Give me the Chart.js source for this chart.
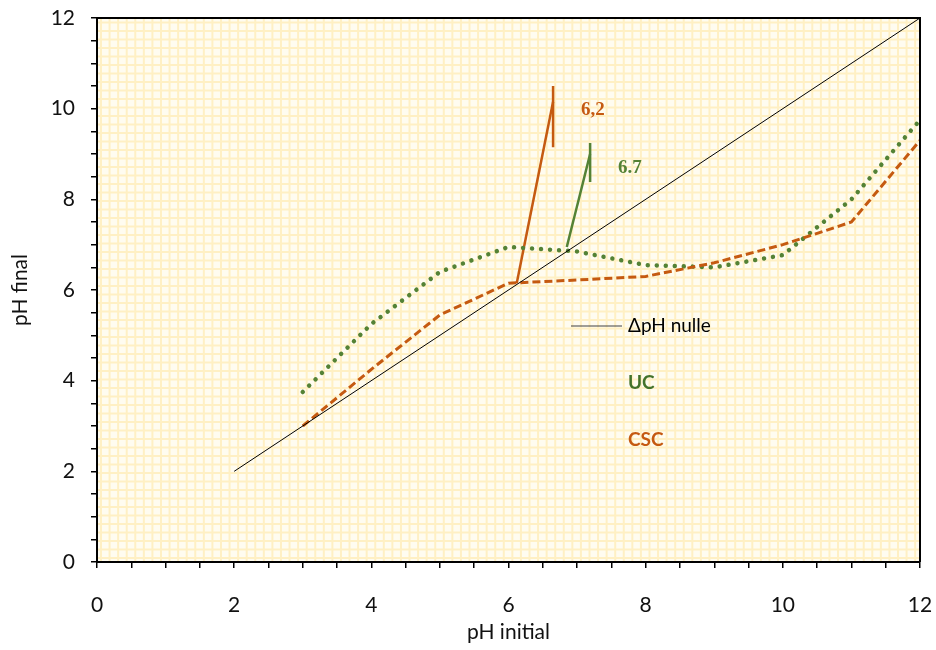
<!DOCTYPE html>
<html>
<head>
<meta charset="utf-8">
<script src="https://cdn.jsdelivr.net/npm/chart.js@4.4.1/dist/chart.umd.min.js"></script>
<style>
  html, body { margin: 0; padding: 0; background: #fff; }
  #wrap { width: 936px; height: 650px; }
</style>
</head>
<body>
<div id="wrap"><canvas id="chart" width="936" height="650"></canvas></div>
<script>
// pH final vs pH initial (salt addition method)
const phInitial = [3, 4, 5, 6, 7, 8, 9, 10, 11, 12];
const ucFinal = [3.75, 5.25, 6.4, 6.95, 6.85, 6.55, 6.5, 6.77, 8.0, 9.75];
const cscFinal = [3.0, 4.25, 5.45, 6.15, 6.22, 6.3, 6.6, 7.0, 7.5, 9.3];

// ΔpH = 0 reference line
const nullX = [2, 12];
const nullY = [2, 12];

// construction lines pointing at the pH of zero charge
const cscPzcX = [6.12, 6.65];
const cscPzcY = [6.15, 10.15];
const cscMarkX = [6.65, 6.65];
const cscMarkY = [10.5, 9.15];
const ucPzcX = [6.85, 7.19];
const ucPzcY = [6.95, 9.0];
const ucMarkX = [7.19, 7.19];
const ucMarkY = [9.24, 8.38];

const pzcLabels = ['6,2', '6.7'];
const legendLabels = ['ΔpH nulle', 'UC', 'CSC'];

const ORANGE = '#C55A11';
const GREEN = '#548235';
const FONT = 'Lato, "Open Sans", sans-serif';

const toPoints = (xs, ys) => xs.map((x, i) => ({ x, y: ys[i] }));

// Excel-like "small grid" pattern fill of the plot area
const paperGrid = {
  id: 'paperGrid',
  beforeDraw(chart) {
    const { ctx, chartArea: a } = chart;
    ctx.save();
    ctx.fillStyle = '#FFFCF0';
    ctx.fillRect(a.left, a.top, a.right - a.left, a.bottom - a.top);
    ctx.strokeStyle = '#FFF0C4';
    ctx.lineWidth = 2;
    ctx.beginPath();
    for (let x = a.left + 4; x < a.right; x += 8.57) {
      ctx.moveTo(x, a.top);
      ctx.lineTo(x, a.bottom);
    }
    for (let y = a.bottom - 4; y > a.top; y -= 8.5) {
      ctx.moveTo(a.left, y);
      ctx.lineTo(a.right, y);
    }
    ctx.stroke();
    ctx.restore();
  },
  afterDraw(chart) {
    const { ctx, chartArea: a } = chart;
    ctx.save();
    ctx.strokeStyle = '#000';
    ctx.lineWidth = 2;
    ctx.beginPath();
    ctx.moveTo(a.left, a.top);
    ctx.lineTo(a.right, a.top);
    ctx.lineTo(a.right, a.bottom);
    ctx.stroke();
    ctx.restore();
  },
};

// text boxes: legend and pzc values
const notes = {
  id: 'notes',
  afterDraw(chart) {
    const { ctx } = chart;
    ctx.save();
    ctx.textBaseline = 'middle';
    ctx.textAlign = 'left';

    ctx.strokeStyle = '#404040';
    ctx.lineWidth = 1;
    ctx.beginPath();
    ctx.moveTo(571, 326);
    ctx.lineTo(622, 326);
    ctx.stroke();

    ctx.fillStyle = '#000';
    ctx.font = '19px ' + FONT;
    ctx.fillText(legendLabels[0], 628, 326);
    ctx.font = 'bold 19px ' + FONT;
    ctx.fillStyle = '#44722A';
    ctx.fillText(legendLabels[1], 628, 383);
    ctx.fillStyle = ORANGE;
    ctx.fillText(legendLabels[2], 628, 440);

    ctx.font = 'bold 19px "Liberation Serif", serif';
    ctx.fillStyle = ORANGE;
    ctx.fillText(pzcLabels[0], 581, 110);
    ctx.fillStyle = GREEN;
    ctx.fillText(pzcLabels[1], 618, 168);
    ctx.restore();
  },
};

const tickLabel = (v) => (v % 2 === 0 ? String(v) : '');

// keep the plot area where the reference has it
const noOverflow = (scale) => {
  scale.paddingTop = 0;
  scale.paddingBottom = 0;
  scale.paddingLeft = 0;
  scale.paddingRight = 0;
};

new Chart(document.getElementById('chart'), {
  type: 'line',
  data: {
    datasets: [
      {
        data: toPoints(nullX, nullY),
        borderColor: '#000',
        borderWidth: 1,
        pointRadius: 0,
      },
      {
        data: toPoints(phInitial, cscFinal),
        borderColor: ORANGE,
        borderWidth: 3,
        borderDash: [8, 4],
        pointRadius: 0,
      },
      {
        data: toPoints(phInitial, ucFinal),
        borderColor: GREEN,
        borderWidth: 4.5,
        borderDash: [0.01, 9],
        borderCapStyle: 'round',
        pointRadius: 0,
      },
      {
        data: toPoints(cscPzcX, cscPzcY),
        borderColor: ORANGE,
        borderWidth: 2.5,
        pointRadius: 0,
      },
      {
        data: toPoints(cscMarkX, cscMarkY),
        borderColor: ORANGE,
        borderWidth: 2.5,
        pointRadius: 0,
      },
      {
        data: toPoints(ucPzcX, ucPzcY),
        borderColor: GREEN,
        borderWidth: 2.5,
        pointRadius: 0,
      },
      {
        data: toPoints(ucMarkX, ucMarkY),
        borderColor: GREEN,
        borderWidth: 2.5,
        pointRadius: 0,
      },
    ],
  },
  options: {
    responsive: false,
    animation: false,
    layout: { padding: { top: 18, right: 16, left: 0, bottom: 0 } },
    plugins: {
      legend: { display: false },
      tooltip: { enabled: false },
    },
    scales: {
      x: {
        type: 'linear',
        min: 0,
        max: 12,
        afterFit(scale) { scale.height = 88; noOverflow(scale); },
        ticks: {
          stepSize: 0.5,
          autoSkip: false,
          maxRotation: 0,
          padding: 25,
          color: '#111',
          font: { family: FONT, size: 21 },
          callback: tickLabel,
        },
        grid: { drawOnChartArea: false, drawTicks: true, tickLength: 6, color: '#000', lineWidth: 1.5 },
        border: { display: true, color: '#000', width: 2 },
        title: {
          display: true,
          text: 'pH initial',
          color: '#111',
          font: { family: FONT, size: 21 },
          padding: { top: 4, bottom: 5 },
        },
      },
      y: {
        type: 'linear',
        min: 0,
        max: 12,
        afterFit(scale) { scale.width = 97; noOverflow(scale); },
        ticks: {
          stepSize: 0.5,
          autoSkip: false,
          padding: 16,
          color: '#111',
          font: { family: FONT, size: 21 },
          callback: tickLabel,
        },
        grid: { drawOnChartArea: false, drawTicks: true, tickLength: 6, color: '#000', lineWidth: 1.5 },
        border: { display: true, color: '#000', width: 2 },
        title: {
          display: true,
          text: 'pH final',
          color: '#111',
          font: { family: FONT, size: 21 },
          padding: { top: 8, bottom: 10 },
        },
      },
    },
  },
  plugins: [paperGrid, notes],
});
</script>
</body>
</html>
